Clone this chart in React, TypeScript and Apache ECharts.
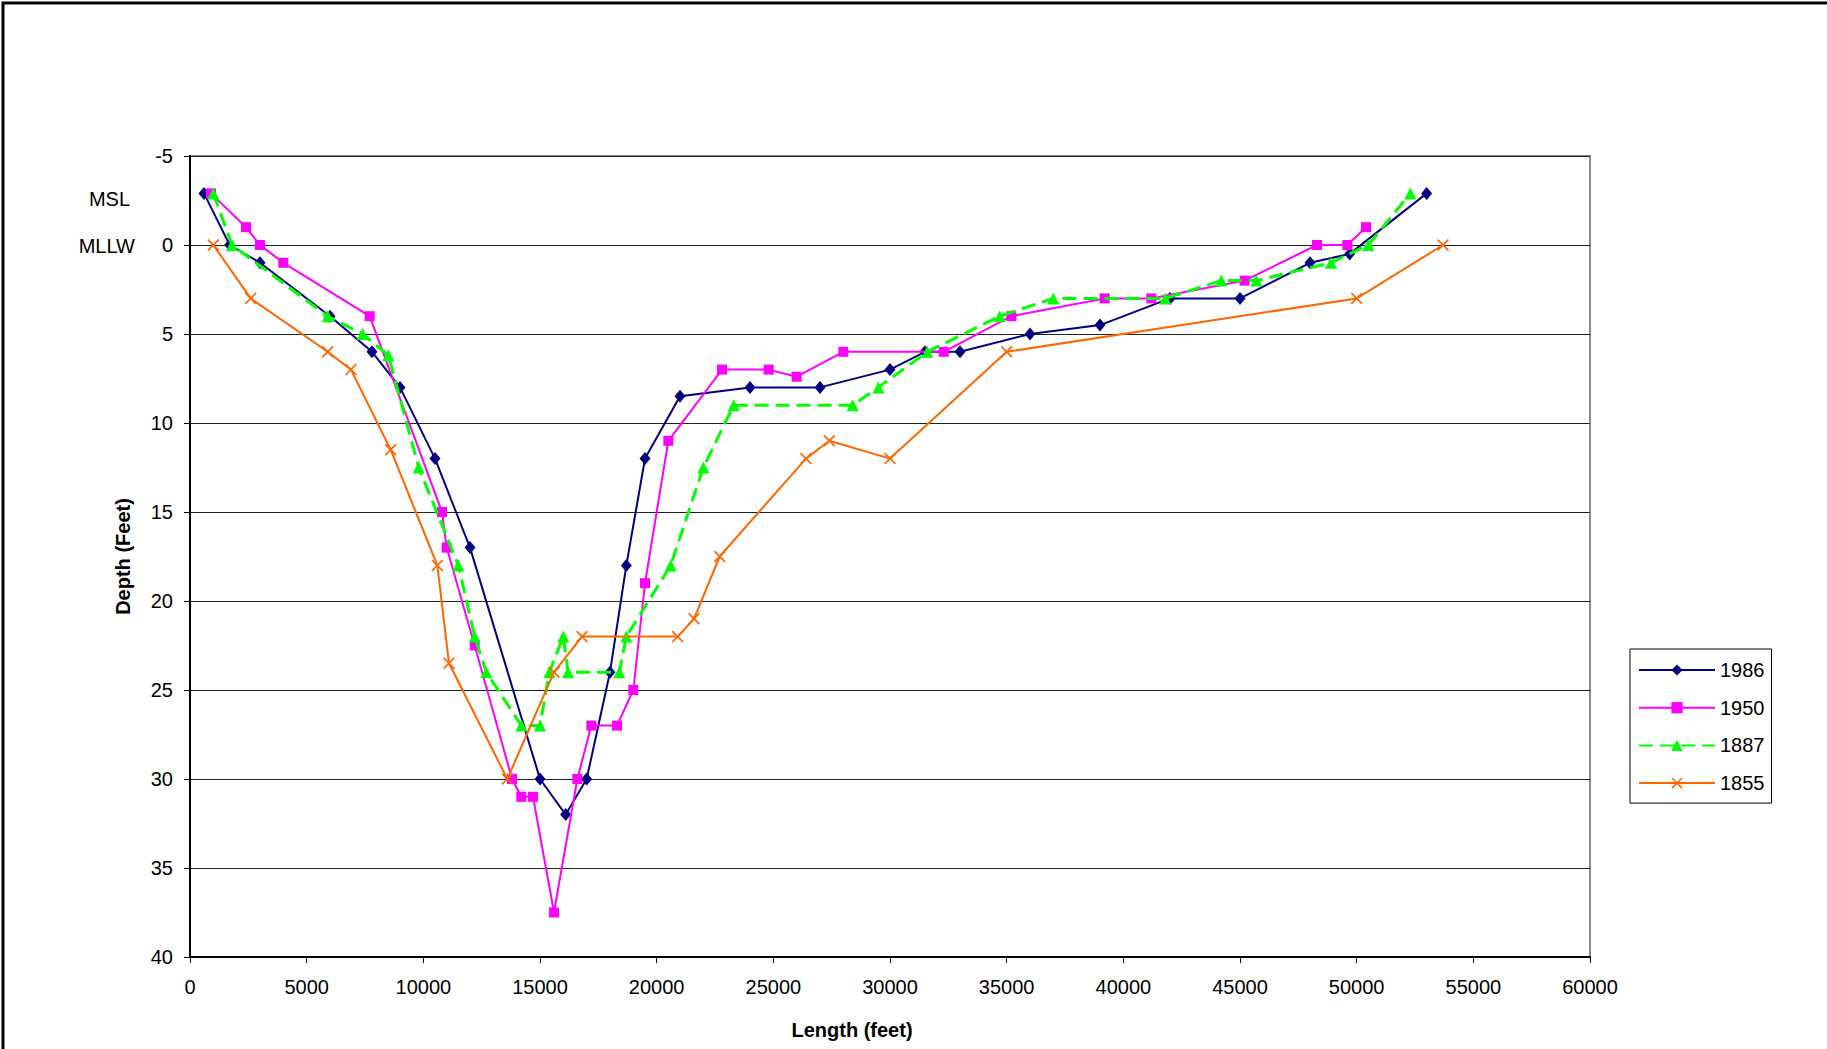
import React, { useEffect, useRef } from "react";
import * as echarts from "echarts";

const xTicks = { min: 0, max: 60000, interval: 5000 };
const yTicks = { min: -5, max: 40, interval: 5 };

const seriesNames = ["1986", "1950", "1887", "1855"];

const x1986 = [600, 1700, 3000, 6000, 7800, 9000, 10500, 12000, 15000, 16100, 17000, 18000, 18700, 19500, 21000, 24000, 27000, 30000, 31500, 33000, 36000, 39000, 42000, 45000, 48000, 49700, 53000];
const y1986 = [-2.9, 0, 1, 4, 6, 8, 12, 17, 30, 32, 30, 24, 18, 12, 8.5, 8, 8, 7, 6, 6, 5, 4.5, 3, 3, 1, 0.5, -2.9];

const x1950 = [900, 2400, 3000, 4000, 7700, 10800, 11000, 12200, 13800, 14200, 14700, 15600, 16600, 17200, 18300, 19000, 19500, 20500, 22800, 24800, 26000, 28000, 32300, 35200, 39200, 41200, 45200, 48300, 49600, 50400];
const y1950 = [-2.9, -1, 0, 1, 4, 15, 17, 22.5, 30, 31, 31, 37.5, 30, 27, 27, 25, 19, 11, 7, 7, 7.4, 6, 6, 4, 3, 3, 2, 0, 0, -1];

const x1887 = [1000, 1800, 5900, 7400, 8500, 9800, 11500, 12200, 12700, 14200, 15000, 15400, 16000, 16200, 18400, 18700, 20600, 22000, 23300, 28400, 29500, 31600, 34700, 37000, 41800, 44200, 45700, 48900, 50500, 52300];
const y1887 = [-2.9, 0, 4, 5, 6.2, 12.5, 18, 22, 24, 27, 27, 24, 22, 24, 24, 22, 18, 12.5, 9, 9, 8, 6, 4, 3, 3, 2, 2, 1, 0, -2.9];

const x1855 = [1000, 2600, 5900, 6900, 8600, 10600, 11100, 13600, 15600, 16800, 20900, 21600, 22700, 26400, 27400, 30000, 35000, 50000, 53700];
const y1855 = [0, 3, 6, 7, 11.5, 18, 23.5, 30, 24, 22, 22, 21, 17.5, 12, 11, 12, 6, 3, 0];

const zip = (xs: number[], ys: number[]) => xs.map((x, i) => [x, ys[i]]);

const FONT = "'Liberation Sans', Arial, sans-serif";
const X_SYMBOL =
  "path://M0,1 L1,0 L5,4 L9,0 L10,1 L6,5 L10,9 L9,10 L5,6 L1,10 L0,9 L4,5 Z";

export default function App() {
  const ref = useRef<HTMLDivElement>(null);

  useEffect(() => {
    if (!ref.current) return;
    const chart = echarts.init(ref.current, undefined, { renderer: "svg" });
    const option = {
      animation: false,
      backgroundColor: "#ffffff",
      textStyle: { fontFamily: FONT, color: "#000" },
      grid: {
        left: 190,
        right: 237,
        top: 156,
        bottom: 92,
        show: true,
        borderColor: "#8a8a8a",
        borderWidth: 2,
        backgroundColor: "transparent",
      },
      xAxis: {
        type: "value",
        min: xTicks.min,
        max: xTicks.max,
        interval: xTicks.interval,
        name: "Length (feet)",
        nameLocation: "middle",
        nameGap: 63,
        nameTextStyle: {
          fontFamily: FONT,
          fontSize: 20,
          fontWeight: "bold",
          color: "#000",
          padding: [0, 76, 0, 0],
        },
        axisLine: { onZero: false, lineStyle: { color: "#000", width: 2 } },
        axisTick: { show: true, length: 6, lineStyle: { color: "#000", width: 1 } },
        axisLabel: {
          color: "#000",
          fontSize: 20,
          fontFamily: FONT,
          margin: 20,
          formatter: (v: number) => String(v),
        },
        splitLine: { show: false },
      },
      yAxis: {
        type: "value",
        inverse: true,
        min: yTicks.min,
        max: yTicks.max,
        interval: yTicks.interval,
        name: "Depth (Feet)",
        nameLocation: "middle",
        nameGap: 57,
        nameRotate: 90,
        nameTextStyle: {
          fontFamily: FONT,
          fontSize: 20,
          fontWeight: "bold",
          color: "#000",
        },
        axisLine: { onZero: false, lineStyle: { color: "#000", width: 2 } },
        axisTick: { show: true, length: 6, lineStyle: { color: "#000", width: 1 } },
        axisLabel: {
          color: "#000",
          fontSize: 20,
          fontFamily: FONT,
          margin: 17,
          formatter: (v: number) => String(v),
        },
        splitLine: { show: true, lineStyle: { color: "#222", width: 1 } },
      },
      legend: {
        orient: "vertical",
        left: 1630,
        top: 649,
        padding: [11, 7, 10, 8],
        itemGap: 17.7,
        itemWidth: 76,
        itemHeight: 14,
        borderColor: "#000",
        borderWidth: 1,
        backgroundColor: "#fff",
        textStyle: { fontFamily: FONT, fontSize: 20, lineHeight: 20, color: "#000" },
        data: seriesNames,
      },
      graphic: [
        {
          type: "rect",
          silent: true,
          shape: { x: 3, y: 3, width: 2000, height: 1200 },
          style: { fill: "none", stroke: "#000", lineWidth: 3 },
        },
        {
          type: "text",
          x: 130,
          y: 199,
          style: {
            text: "MSL",
            fontFamily: FONT,
            fontSize: 20,
            fill: "#000",
            align: "right",
            verticalAlign: "middle",
          },
        },
        {
          type: "text",
          x: 135,
          y: 245.5,
          style: {
            text: "MLLW",
            fontFamily: FONT,
            fontSize: 20,
            fill: "#000",
            align: "right",
            verticalAlign: "middle",
          },
        },
      ],
      series: [
        {
          name: "1986",
          type: "line",
          data: zip(x1986, y1986),
          symbol: "diamond",
          symbolSize: [11, 13],
          lineStyle: { color: "#000080", width: 2 },
          itemStyle: { color: "#000080" },
          z: 2,
        },
        {
          name: "1950",
          type: "line",
          data: zip(x1950, y1950),
          symbol: "rect",
          symbolSize: 10,
          lineStyle: { color: "#ff00ff", width: 2 },
          itemStyle: { color: "#ff00ff" },
          z: 3,
        },
        {
          name: "1887",
          type: "line",
          data: zip(x1887, y1887),
          symbol: "triangle",
          symbolSize: 12,
          lineStyle: { color: "#00ff00", width: 3, type: [14, 7] },
          itemStyle: { color: "#00ff00" },
          z: 4,
        },
        {
          name: "1855",
          type: "line",
          data: zip(x1855, y1855),
          symbol: X_SYMBOL,
          symbolSize: 12,
          lineStyle: { color: "#ff6600", width: 2 },
          itemStyle: { color: "#ff6600" },
          z: 5,
        },
      ],
    };
    chart.setOption(option as any);
    return () => chart.dispose();
  }, []);

  return (
    <div
      ref={ref}
      style={{ position: "absolute", left: 0, top: 0, width: 1827, height: 1049 }}
    />
  );
}
